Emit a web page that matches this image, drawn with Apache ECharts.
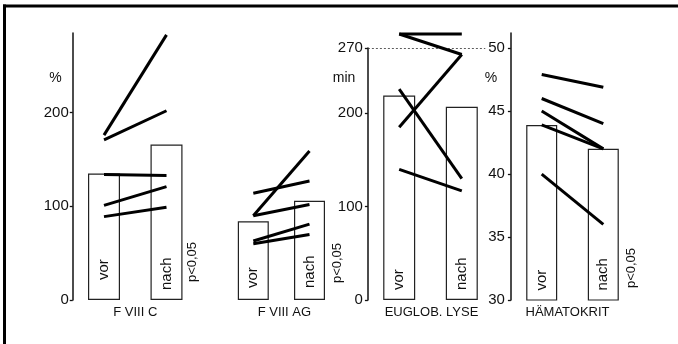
<!DOCTYPE html>
<html><head><meta charset="utf-8">
<script src="https://cdn.jsdelivr.net/npm/echarts@6/dist/echarts.min.js"></script>
<style>html,body{margin:0;padding:0;background:#fff}#c{width:678px;height:344px}</style>
</head><body><div id="c"></div>
<script>
// ---- data ----
const groups = ['vor', 'nach'];
const panelTitles = ['F VIII C', 'F VIII AG', 'EUGLOB. LYSE', 'HÄMATOKRIT'];
const panelUnits = ['%', '', 'min', '%'];
const pValue = 'p<0,05';

const fviiiC_bars = [135, 166];
const fviiiC_pairs = [[176, 283], [171, 202], [134, 133], [101, 121], [89, 99]];

const fviiiAG_bars = [84, 106];
const fviiiAG_pairs = [[90, 159], [114, 127], [90, 102], [63, 81], [60, 70]];

const euglob_bars = [219, 207];
const euglob_pairs = [[285, 285], [285, 263], [185, 263], [226, 130], [140, 117]];

const haemato_bars = [43.9, 42];
const haemato_pairs = [[47.9, 46.9], [46, 44], [45, 42], [43.9, 42], [40, 36]];

const pctTicks = [0, 100, 200];
const minTicks = [0, 100, 200, 270];
const hkTicks = [30, 35, 40, 45, 50];
const euglobRef = 270;

// ---- layout / styling ----
const FONT = "'Liberation Sans', Arial, sans-serif";
const panels = [
  {bars: fviiiC_bars, pairs: fviiiC_pairs, grid: {left: 72.75, width: 125, top: 33, height: 267},
   y: {min: 0, max: 285, ticks: pctTicks, show: true, margin: 4}, barWidth: 32, labelDist: [20, 10], namePad: [0, 0, 0, 0]},
  {bars: fviiiAG_bars, pairs: fviiiAG_pairs, grid: {left: 225.2, width: 112.4, top: 33, height: 267},
   y: {min: 0, max: 285, ticks: pctTicks, show: false, margin: 4}, barWidth: 31, labelDist: [12, 12], namePad: [0, 0, 0, 6]},
  {bars: euglob_bars, pairs: euglob_pairs, grid: {left: 367.9, width: 125.2, top: 48, height: 252},
   y: {min: 0, max: 270, ticks: minTicks, show: true, margin: 5}, barWidth: 32, labelDist: [10, 10], namePad: [0, 0, 0, 2]},
  {bars: haemato_bars, pairs: haemato_pairs, grid: {left: 510.9, width: 123.2, top: 33, height: 267},
   y: {min: 30, max: 51.2, ticks: hkTicks, show: true, margin: 6}, barWidth: 31, labelDist: [10, 10], namePad: [0, 10, 0, 0]}
];
const slot = i => 2 * i + 1; // centre of group i on a 0..4 axis

const grid = [], xAxis = [], yAxis = [], series = [];
panels.forEach((p, k) => {
  grid.push(Object.assign({containLabel: false}, p.grid));
  xAxis.push({
    type: 'value', gridIndex: k, min: 0, max: 4,
    axisLine: {show: false}, axisTick: {show: false}, axisLabel: {show: false}, splitLine: {show: false},
    name: panelTitles[k], nameLocation: 'middle', nameGap: 6,
    nameTextStyle: {fontFamily: FONT, fontSize: 13, color: '#111', padding: p.namePad}
  });
  yAxis.push({
    type: 'value', gridIndex: k, min: p.y.min, max: p.y.max, show: p.y.show,
    axisLine: {show: true, lineStyle: {color: '#111', width: 1.5}},
    axisTick: {show: true, length: 3, customValues: p.y.ticks, lineStyle: {color: '#111', width: 1.3}},
    axisLabel: {show: true, customValues: p.y.ticks, margin: p.y.margin, fontFamily: FONT, fontSize: 15, color: '#111'},
    splitLine: {show: false}
  });
  const barSeries = {
    type: 'bar', xAxisIndex: k, yAxisIndex: k, barWidth: p.barWidth, z: 2,
    itemStyle: {color: '#fff', borderColor: '#222', borderWidth: 1.2},
    label: {
      show: true, position: 'insideBottom', rotate: 90, align: 'left', verticalAlign: 'middle',
      fontFamily: FONT, fontSize: 15, color: '#111',
      formatter: prm => groups[prm.dataIndex]
    },
    data: p.bars.map((v, i) => ({value: [slot(i), v], label: {distance: p.labelDist[i]}}))
  };
  if (k === 2) {
    barSeries.markLine = {
      silent: true, symbol: 'none', label: {show: false},
      lineStyle: {type: [2, 2], color: '#333', width: 0.8},
      data: [[{coord: [0, euglobRef]}, {coord: [3.75, euglobRef]}]]
    };
  }
  series.push(barSeries);
  p.pairs.forEach(pair => {
    series.push({
      type: 'line', xAxisIndex: k, yAxisIndex: k, z: 5, clip: false, silent: true,
      symbol: 'none', lineStyle: {color: '#000', width: 3, cap: 'butt'},
      data: pair.map((v, i) => [slot(i), v])
    });
  });
});

const txt = (x, y, s, size, rot) => ({
  type: 'text', x: x, y: y, rotation: rot || 0, z: 10,
  style: {text: s, fontFamily: FONT, fontSize: size, fill: '#111', align: 'center', verticalAlign: 'middle'}
});

const option = {
  animation: false,
  backgroundColor: '#fff',
  grid, xAxis, yAxis, series,
  graphic: [
    {type: 'rect', shape: {x: 3, y: 4.5, width: 676, height: 3}, style: {fill: '#000'}},
    {type: 'rect', shape: {x: 3, y: 4.5, width: 3, height: 340}, style: {fill: '#000'}},
    txt(55.5, 78, panelUnits[0], 14),
    txt(344, 78, panelUnits[2], 14),
    txt(491, 78, panelUnits[3], 14),
    txt(192, 262, pValue, 13, Math.PI / 2),
    txt(337, 263, pValue, 13, Math.PI / 2),
    txt(631, 268, pValue, 13, Math.PI / 2)
  ]
};
const chart = echarts.init(document.getElementById('c'), null, {renderer: 'canvas'});
chart.setOption(option);
</script>
</body></html>
